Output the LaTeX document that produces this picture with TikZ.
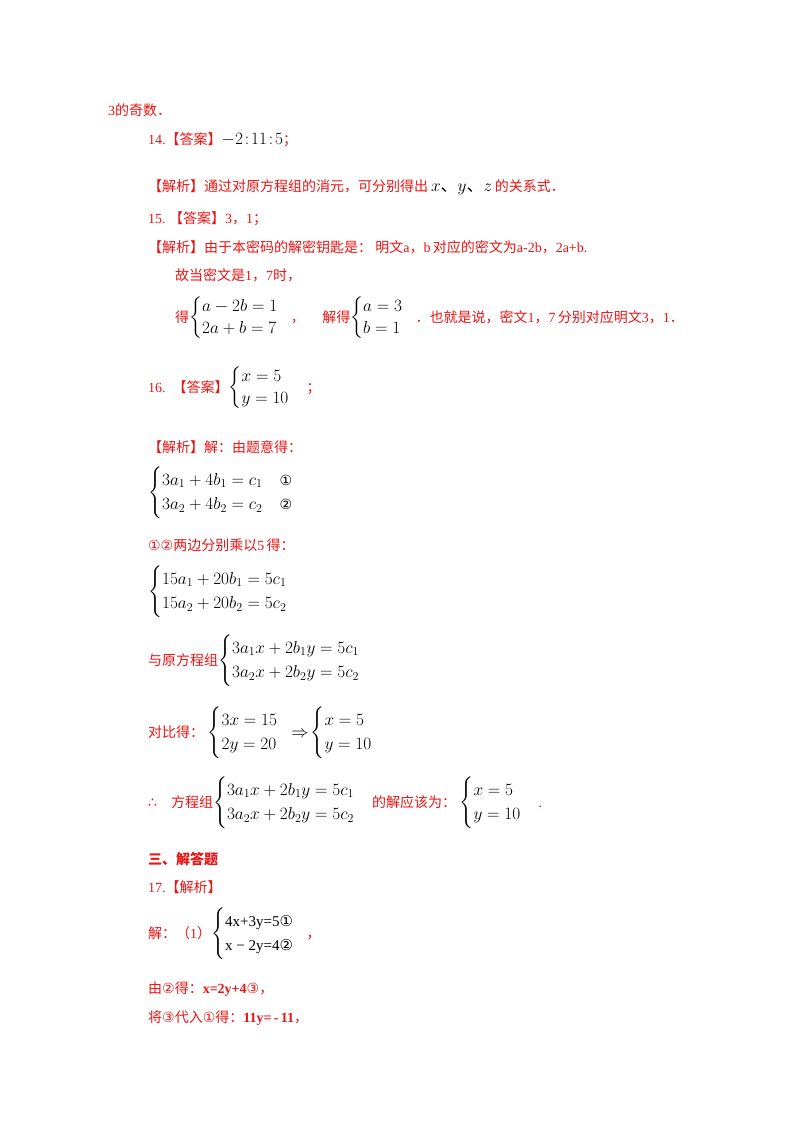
\documentclass[tikz,border=0pt]{standalone}
\usepackage{amsmath}
\usepackage{fontspec}
\setmainfont{Liberation Serif}
\newfontfamily\cjk{Noto Sans CJK SC}
\newfontfamily\sym{DejaVu Sans}
\definecolor{ans}{RGB}{235,20,20}
\tikzset{t/.style={anchor=west,inner sep=0pt,text=ans,font=\fontsize{14}{16}\selectfont}}
\newcommand{\C}[1]{{\cjk #1}}
\newcommand{\ci}[1]{{\sym #1}}
\newcommand{\M}[1]{{\color{black}\fontsize{17}{19}\selectfont #1}}
\begin{document}
\begin{tikzpicture}[x=1pt,y=-1pt]
\useasboundingbox[fill=white] (0,0) rectangle (800,1132);
\node[t] (l1) at (108,110) {3\C{的奇数．}};
\node[t] (l2) at (148,140) {14.\C{【答案】}\M{$-2\!:\!11\!:\!5$}\C{；}};
\node[t] (l3) at (148,187) {\C{【解析】通过对原方程组的消元，可分别得出}\M{\,$x$\C{、}$y$\C{、}$z$\,}\C{的关系式．}};
\node[t] (l4) at (148,219) {15.\ \C{【答案】}3\C{，}1\C{；}};
\node[t] (l5) at (148,247) {\C{【解析】由于本密码的解密钥匙是：\ 明文}a\C{，}b\,\C{对应的密文为}a-2b\C{，}2a+b.};
\node[t] (l6) at (175,275) {\C{故当密文是}1\C{，}7\C{时，}};
\node[t] (l7) at (175,318) {\C{得}\M{$\begin{cases}a-2b=1\\2a+b=7\end{cases}$}\!\!\C{，}\quad\ \C{解得}\M{$\begin{cases}a=3\\b=1\end{cases}$}\!\!\C{．也就是说，密文}1\C{，}7\,\C{分别对应明文}3\C{，}1\C{．}};
\node[t] (l8) at (148,388) {16.\ \ \C{【答案】}\M{$\begin{cases}x=5\\y=10\end{cases}$}\C{；}};
\node[t] (l9) at (148,447) {\C{【解析】解：由题意得：}};
\node[t] (l10) at (148,493) {\M{$\begin{cases}3a_1+4b_1=c_1 & \text{\fontsize{14}{16}\selectfont\ci{①}}\\[2pt]3a_2+4b_2=c_2 & \text{\fontsize{14}{16}\selectfont\ci{②}}\end{cases}$}};
\node[t] (l11) at (148,545) {\ci{①②}\C{两边分别乘以}5\,\C{得：}};
\node[t] (l12) at (148,592) {\M{$\begin{cases}15a_1+20b_1=5c_1\\[2pt]15a_2+20b_2=5c_2\end{cases}$}};
\node[t] (l13) at (148,661) {\C{与原方程组}\M{$\begin{cases}3a_1x+2b_1y=5c_1\\[2pt]3a_2x+2b_2y=5c_2\end{cases}$}};
\node[t] (l14) at (148,733) {\C{对比得：}\ \M{$\begin{cases}3x=15\\[2pt]2y=20\end{cases}\!\!\!\Rightarrow\!\begin{cases}x=5\\[2pt]y=10\end{cases}$}};
\node[t] (l15) at (148,803) {\ci{∴}\quad\C{方程组}\M{$\begin{cases}3a_1x+2b_1y=5c_1\\[2pt]3a_2x+2b_2y=5c_2\end{cases}$}\C{的解应该为：}\ \M{$\begin{cases}x=5\\[2pt]y=10\end{cases}$}.};
\node[t] (l16) at (148,859) {\C{\bfseries 三、解答题}};
\node[t] (l17) at (148,887) {17.\C{【解析】}};
\node[t] (l18) at (148,934) {\C{解：（}1\C{）}\M{$\begin{cases}\text{\fontsize{15}{17}\selectfont 4x+3y=5\ci{①}}\\[2pt]\text{\fontsize{15}{17}\selectfont x − 2y=4\ci{②}}\end{cases}$}\!\!\C{，}};
\node[t] (l19) at (148,989) {\C{由}\ci{②}\C{得：}\textbf{x=2y+4}\ci{③}\C{，}};
\node[t] (l20) at (148,1018) {\C{将}\ci{③}\C{代入}\ci{①}\C{得：}\textbf{11y=\,-\,11}\C{，}};
\end{tikzpicture}
\end{document}
